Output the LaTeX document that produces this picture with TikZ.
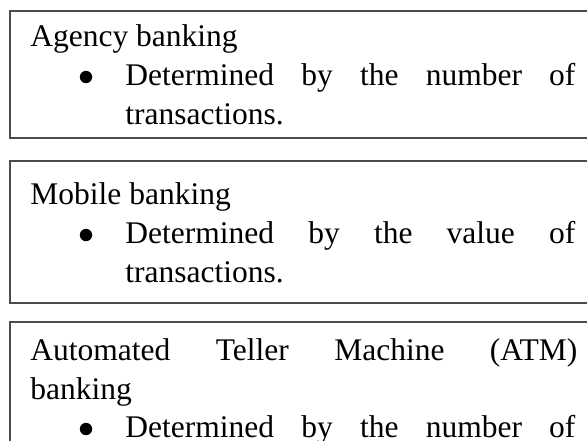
\documentclass[tikz,border=0pt]{standalone}
\usepackage{fontspec}
\setmainfont{Liberation Serif}
\usetikzlibrary{positioning}

\tikzset{
  boxline/.style={draw=black!70, line width=0.55pt},
  txt/.style={anchor=base west, inner sep=0pt, font=\fontsize{15.75pt}{19.5pt}\selectfont},
  bulletdot/.style={circle, fill=black, inner sep=0pt, minimum size=6.2pt},
}

\begin{document}
\begin{tikzpicture}[x=1pt, y=1pt]

  \newcommand\HX{15};   % heading start
  \newcommand\BX{43};   % bullet centre
  \newcommand\IX{62.5}; % item start
  \newcommand\IW{225pt};% item width

  \useasboundingbox (0,0) rectangle (293.5,-220);

  % boxes, their right side runs off the page
  \draw[boxline] (5,-5.5) rectangle (310,-69);     %% agency
  \draw[boxline] (5,-80.5) rectangle (310,-151.5); %% mobile
  \draw[boxline] (5,-161) rectangle (310,-240);    %% atm

  % Agency banking
  \node[txt] (agency) at (\HX,-23) {Agency banking};
  \node[bulletdot] (agencydot) at (\BX,-38.5) {};
  \node[txt] (agencyA) at (\IX,-42.5) {\makebox[\IW][s]{Determined by the number of}};
  \node[txt] (agencyB) at (\IX,-62) {transactions.};

  % Mobile banking
  \node[txt] (mobile) at (\HX,-102) {Mobile banking};
  \node[bulletdot] (mobiledot) at (\BX,-117.5) {};
  \node[txt] (mobileA) at (\IX,-121.5) {\makebox[\IW][s]{Determined by the value of}};
  \node[txt] (mobileB) at (\IX,-141) {transactions.};

  % ATM banking
  \node[txt] (atm) at (\HX,-180) {\makebox[273.5pt][s]{Automated Teller Machine (ATM)}};
  \node[txt] (atmB) at (\HX,-199.5) {banking};
  \node[bulletdot] (atmdot) at (\BX,-214.5) {};
  \node[txt] (atmA) at (\IX,-218.5) {\makebox[\IW][s]{Determined by the number of}};

\end{tikzpicture}
\end{document}
